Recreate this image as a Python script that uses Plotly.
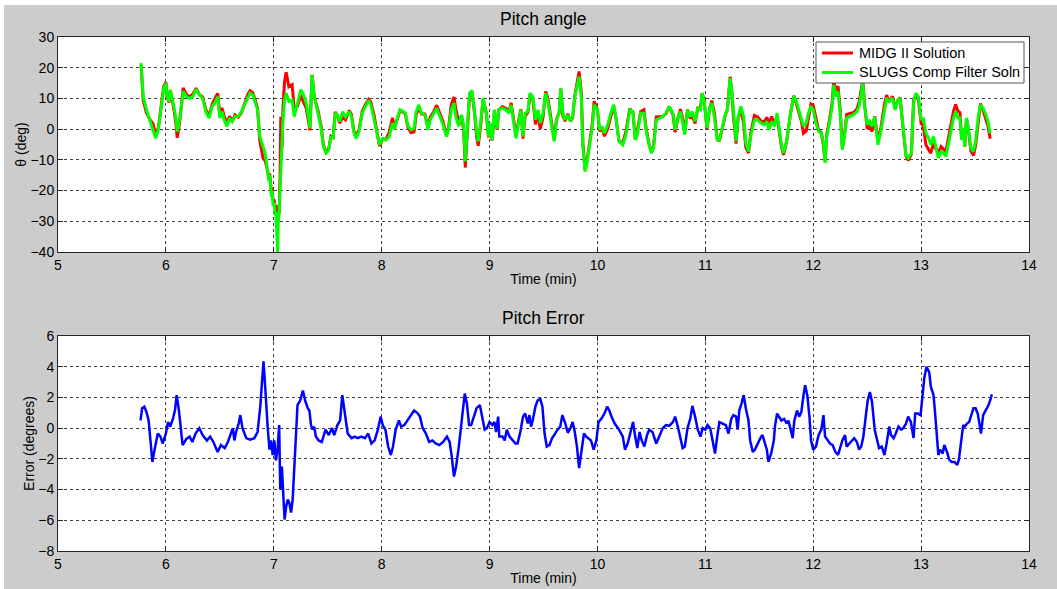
import plotly.graph_objects as go

# ---------------- data ----------------
# Pitch angle (deg): time (min), SLUGS complementary filter and MIDG II solution
t_pitch = [
    5.77, 5.79, 5.82, 5.85, 5.88, 5.905, 5.93, 5.96, 5.98, 6.00,
    6.01, 6.03, 6.04, 6.065, 6.09, 6.105, 6.13, 6.16, 6.19, 6.22,
    6.25, 6.28, 6.31, 6.34, 6.37, 6.40, 6.43, 6.46, 6.48, 6.50,
    6.52, 6.54, 6.565, 6.59, 6.615, 6.64, 6.67, 6.70, 6.73, 6.76,
    6.78, 6.805, 6.83, 6.85, 6.87, 6.90, 6.92, 6.945, 6.955, 6.962,
    6.97, 6.978, 6.985, 6.993, 7.005, 7.012, 7.02, 7.028, 7.035, 7.042,
    7.05, 7.058, 7.065, 7.07, 7.078, 7.085, 7.10, 7.115, 7.14, 7.17,
    7.19, 7.22, 7.25, 7.275, 7.30, 7.32, 7.335, 7.355, 7.375, 7.41,
    7.44, 7.46, 7.485, 7.51, 7.53, 7.55, 7.57, 7.59, 7.61, 7.64,
    7.665, 7.70, 7.72, 7.74, 7.76, 7.79, 7.82, 7.85, 7.88, 7.90,
    7.93, 7.95, 7.98, 8.01, 8.04, 8.07, 8.10, 8.12, 8.145, 8.17,
    8.20, 8.22, 8.24, 8.27, 8.30, 8.32, 8.345, 8.37, 8.40, 8.43,
    8.45, 8.48, 8.51, 8.54, 8.57, 8.60, 8.62, 8.645, 8.67, 8.69,
    8.715, 8.74, 8.76, 8.775, 8.79, 8.815, 8.835, 8.86, 8.88, 8.895,
    8.92, 8.94, 8.97, 8.99, 9.005, 9.025, 9.045, 9.07, 9.085, 9.12,
    9.15, 9.18, 9.20, 9.22, 9.245, 9.27, 9.29, 9.31, 9.33, 9.355,
    9.375, 9.40, 9.425, 9.45, 9.47, 9.495, 9.52, 9.54, 9.56, 9.58,
    9.60, 9.62, 9.645, 9.66, 9.68, 9.70, 9.725, 9.75, 9.77, 9.79,
    9.81, 9.83, 9.85, 9.865, 9.885, 9.905, 9.925, 9.95, 9.97, 10.00,
    10.02, 10.04, 10.065, 10.095, 10.12, 10.15, 10.17, 10.20, 10.235, 10.265,
    10.30, 10.33, 10.35, 10.37, 10.40, 10.43, 10.45, 10.475, 10.50, 10.52,
    10.545, 10.575, 10.605, 10.635, 10.665, 10.70, 10.72, 10.745, 10.77, 10.79,
    10.81, 10.835, 10.86, 10.88, 10.905, 10.93, 10.955, 10.97, 10.99, 11.015,
    11.04, 11.06, 11.085, 11.11, 11.13, 11.16, 11.18, 11.205, 11.23, 11.245,
    11.26, 11.285, 11.305, 11.33, 11.355, 11.375, 11.40, 11.42, 11.455, 11.485,
    11.515, 11.545, 11.57, 11.59, 11.615, 11.64, 11.665, 11.685, 11.705, 11.725,
    11.755, 11.79, 11.82, 11.84, 11.865, 11.89, 11.91, 11.935, 11.955, 11.98,
    12.00, 12.025, 12.05, 12.075, 12.095, 12.11, 12.125, 12.15, 12.175, 12.19,
    12.21, 12.23, 12.25, 12.27, 12.29, 12.31, 12.34, 12.375, 12.405, 12.425,
    12.445, 12.46, 12.475, 12.50, 12.52, 12.545, 12.57, 12.60, 12.63, 12.66,
    12.68, 12.705, 12.735, 12.76, 12.785, 12.805, 12.82, 12.84, 12.86, 12.88,
    12.91, 12.93, 12.95, 12.975, 13.00, 13.02, 13.045, 13.07, 13.09, 13.115,
    13.135, 13.16, 13.185, 13.21, 13.23, 13.255, 13.28, 13.30, 13.32, 13.34,
    13.36, 13.375, 13.39, 13.405, 13.42, 13.44, 13.46, 13.485, 13.505, 13.53,
    13.55, 13.575, 13.60, 13.62, 13.64,
]

slugs_pitch = [
    21.5, 10.6, 6.3, 3.0, -0.2, -3.0, 0.0, 7.4, 13.3, 15.0,
    10.6, 9.0, 12.8, 9.0, 4.1, -0.8, 3.6, 12.3, 10.6, 10.0,
    10.6, 13.0, 11.2, 10.0, 5.7, 3.6, 7.4, 9.0, 10.6, 3.6,
    5.7, 3.0, 0.9, 3.6, 2.5, 4.1, 4.1, 5.7, 7.9, 10.6,
    11.7, 11.2, 8.5, 6.3, -2.4, -5.6, -7.8, -14.3, -17.0, -15.0,
    -18.7, -22.0, -20.0, -25.0, -24.0, -28.0, -26.8, -33.0, -40.0, -30.0,
    -27.0, -20.0, -14.0, -11.0, -2.0, 3.0, 9.5, 11.7, 9.0, 9.5,
    4.1, 9.0, 12.8, 11.2, 8.5, 4.1, 0.3, 17.7, 10.6, 5.2,
    -0.2, -5.6, -7.8, -6.7, -2.4, -3.0, 5.2, 4.7, 2.5, 5.7,
    4.0, 5.7, 4.1, -0.8, -3.0, -0.8, 5.2, 7.4, 9.3, 7.9,
    3.6, -0.2, -5.1, -3.0, -3.5, -2.4, 2.0, 0.0, 3.6, 6.3,
    5.7, 5.2, 1.4, -0.2, 0.3, 5.7, 7.9, 5.2, 4.7, -0.2,
    3.0, 4.7, 6.8, 4.1, 1.4, -2.4, -0.2, 6.3, 8.5, 3.6,
    0.9, 4.7, 1.4, -10.5, -2.4, 11.7, 12.6, 6.3, -1.3, -4.0,
    3.0, 10.1, 5.2, -2.4, 2.0, -3.5, 6.3, 0.0, 6.3, 6.8,
    6.3, 5.2, 7.9, 3.6, -3.0, 2.0, 6.3, -2.4, 5.2, 5.7,
    11.7, 10.6, 3.0, 6.3, 2.0, 5.0, 11.7, 9.0, 4.1, 0.0,
    -4.0, 3.0, 5.2, 13.3, 5.2, 3.0, 4.7, 2.5, 4.1, 10.6,
    13.9, 17.1, 10.6, -5.6, -13.8, -10.5, -5.6, 0.0, 7.9, 6.3,
    -0.2, 0.9, -1.3, 1.4, 4.7, 7.9, 4.1, -4.0, -5.1, -1.8,
    6.3, 5.7, -3.5, -1.8, 5.2, 5.2, 0.0, -4.6, -7.8, -6.2,
    3.0, 3.6, 4.1, 5.2, 7.4, 5.2, -0.2, 3.6, 5.7, 2.0,
    -1.8, 6.3, 4.1, 5.7, 2.5, 6.8, 6.3, 11.7, 9.0, 0.3,
    6.8, 8.5, 3.6, -3.5, -3.5, 0.9, 4.1, 6.3, 16.6, 12.8,
    5.2, -4.0, 4.1, 7.4, 4.1, -4.6, -7.3, -2.4, 3.0, 3.0,
    2.0, 1.4, 2.5, -0.2, 2.5, 0.9, 5.2, 0.0, -5.1, -7.8,
    -3.5, 5.2, 10.6, 9.5, 6.3, 3.6, 0.9, 2.0, 5.2, 7.4,
    6.3, 2.0, -0.8, -1.3, -4.6, -11.0, -2.4, 2.0, 7.4, 14.4,
    10.6, 12.3, 5.2, -6.7, -2.4, 3.6, 4.1, 4.7, 5.7, 7.4,
    11.7, 15.0, 7.9, 1.4, 3.0, 0.9, 4.1, -5.1, -0.2, 6.3,
    10.1, 9.0, 10.1, 6.3, 9.5, 10.1, 4.7, -2.4, -8.4, -9.4,
    -7.8, 8.5, 11.7, 10.6, 3.0, 3.6, -1.3, -3.0, -5.1, -2.4,
    -5.1, -9.4, -7.3, -7.8, -8.9, -4.6, 0.0, 3.6, 5.7, 3.6,
    3.6, -3.5, 0.3, -5.6, 3.6, 0.0, -6.2, -7.3, -4.0, 4.1,
    7.9, 6.8, 4.7, 2.5, -1.3,
]

midg_pitch = [
    21.0, 9.3, 5.3, 3.2, 1.8, -1.7, 0.4, 8.2, 14.0, 15.3,
    10.6, 8.7, 12.7, 8.4, 2.7, -2.8, 2.9, 13.4, 11.3, 10.5,
    11.4, 13.3, 11.2, 10.5, 6.4, 4.2, 8.2, 10.3, 11.6, 4.8,
    6.9, 4.3, 1.9, 4.2, 2.6, 4.6, 3.9, 5.3, 8.3, 11.3,
    12.5, 11.9, 9.2, 6.6, -3.6, -9.4, -10.3, -14.2, -15.5, -14.5,
    -17.7, -20.5, -19.0, -23.0, -23.2, -26.0, -24.7, -27.0, -30.0, -28.0,
    -27.2, -16.0, 4.0, -8.0, -5.0, 7.0, 15.5, 18.5, 13.8, 14.5,
    6.6, 7.5, 10.9, 8.9, 6.9, 2.8, -0.4, 17.7, 10.6, 6.0,
    0.7, -5.1, -7.7, -6.2, -2.3, -2.7, 5.6, 4.5, 2.0, 3.8,
    3.0, 6.1, 4.8, -0.2, -2.4, -0.2, 5.8, 8.0, 9.7, 8.8,
    4.5, 0.3, -5.5, -3.2, -3.4, -1.0, 3.7, 0.6, 3.4, 6.0,
    5.5, 4.9, 0.9, -1.1, -0.9, 4.6, 7.0, 4.9, 4.9, 0.6,
    3.9, 5.5, 7.8, 5.2, 2.3, -1.8, 0.5, 7.9, 10.5, 6.1,
    2.1, 4.4, -0.4, -12.5, -4.0, 11.5, 12.4, 5.5, -2.6, -5.4,
    1.8, 9.6, 5.3, -2.7, 1.6, -3.7, 5.9, -0.2, 6.3, 7.3,
    6.8, 5.7, 8.6, 4.4, -2.0, 2.9, 6.5, -3.1, 4.3, 5.4,
    11.1, 10.1, 1.6, 4.5, 0.1, 3.7, 12.3, 10.2, 5.2, 0.6,
    -3.5, 3.2, 5.3, 13.2, 4.3, 2.6, 5.0, 2.5, 3.7, 10.9,
    15.1, 18.8, 12.1, -4.4, -13.4, -9.9, -4.9, 1.0, 9.1, 6.3,
    -0.7, 0.4, -2.3, 0.1, 3.6, 7.4, 3.9, -3.9, -4.5, -0.6,
    6.7, 5.3, -3.0, -0.5, 5.7, 6.3, 0.6, -4.4, -7.5, -5.6,
    4.0, 4.1, 4.1, 5.0, 7.3, 4.8, -1.0, 3.5, 6.5, 3.3,
    -0.6, 6.3, 3.5, 4.3, 1.8, 6.9, 6.9, 11.7, 9.1, 0.1,
    6.8, 9.3, 5.1, -3.0, -3.9, 0.6, 3.9, 6.6, 17.0, 12.1,
    4.4, -4.7, 4.1, 5.9, 2.0, -5.9, -7.8, -1.5, 4.5, 4.0,
    2.7, 2.2, 3.9, 1.9, 4.1, 1.4, 4.3, -0.8, -5.6, -8.4,
    -3.8, 5.2, 10.9, 8.7, 5.5, 2.6, -1.3, -0.6, 3.4, 8.2,
    7.7, 3.2, -0.4, -1.2, -5.5, -10.5, -1.7, 3.0, 8.5, 15.7,
    12.1, 14.0, 6.4, -5.9, -1.9, 4.8, 5.1, 5.4, 6.6, 8.8,
    12.9, 15.8, 8.5, 0.2, 0.8, -0.8, 4.2, -4.2, 1.0, 8.1,
    11.1, 8.9, 10.7, 6.7, 9.5, 10.3, 4.8, -2.4, -8.7, -10.2,
    -8.1, 9.2, 10.8, 9.7, 1.9, 1.1, -5.2, -6.7, -7.8, -4.6,
    -6.3, -7.7, -5.7, -6.6, -7.3, -2.6, 2.2, 5.8, 8.0, 5.9,
    5.4, -2.7, 0.1, -5.7, 3.4, -0.4, -7.0, -8.6, -5.3, 3.5,
    8.3, 6.0, 3.6, 1.0, -3.1,
]

# Pitch error (degrees)
t_err = [
    5.765, 5.78, 5.80, 5.82, 5.84, 5.86, 5.875, 5.895, 5.925, 5.95,
    5.97, 6.00, 6.02, 6.04, 6.065, 6.085, 6.10, 6.12, 6.14, 6.155,
    6.19, 6.22, 6.245, 6.275, 6.31, 6.34, 6.38, 6.41, 6.44, 6.48,
    6.51, 6.545, 6.575, 6.595, 6.62, 6.635, 6.65, 6.675, 6.69, 6.71,
    6.745, 6.78, 6.82, 6.85, 6.875, 6.89, 6.905, 6.915, 6.93, 6.945,
    6.96, 6.975, 6.99, 7.005, 7.02, 7.035, 7.05, 7.06, 7.075, 7.09,
    7.10, 7.115, 7.13, 7.145, 7.16, 7.175, 7.19, 7.205, 7.22, 7.245,
    7.27, 7.29, 7.315, 7.33, 7.345, 7.36, 7.375, 7.39, 7.415, 7.445,
    7.48, 7.51, 7.54, 7.56, 7.59, 7.615, 7.635, 7.655, 7.685, 7.72,
    7.75, 7.78, 7.81, 7.845, 7.875, 7.905, 7.935, 7.965, 7.99, 8.01,
    8.035, 8.06, 8.085, 8.105, 8.13, 8.16, 8.18, 8.21, 8.245, 8.275,
    8.30, 8.33, 8.355, 8.38, 8.41, 8.44, 8.47, 8.50, 8.535, 8.57,
    8.605, 8.63, 8.65, 8.67, 8.69, 8.715, 8.74, 8.755, 8.77, 8.79,
    8.81, 8.83, 8.86, 8.88, 8.91, 8.93, 8.955, 8.975, 9.00, 9.025,
    9.045, 9.06, 9.08, 9.09, 9.12, 9.14, 9.16, 9.185, 9.215, 9.24,
    9.26, 9.285, 9.31, 9.33, 9.355, 9.37, 9.385, 9.40, 9.425, 9.445,
    9.47, 9.49, 9.51, 9.53, 9.555, 9.58, 9.60, 9.625, 9.655, 9.675,
    9.70, 9.725, 9.75, 9.77, 9.79, 9.81, 9.83, 9.855, 9.875, 9.895,
    9.915, 9.94, 9.965, 9.99, 10.01, 10.035, 10.065, 10.09, 10.11, 10.13,
    10.16, 10.18, 10.20, 10.235, 10.255, 10.28, 10.305, 10.33, 10.35, 10.37,
    10.39, 10.41, 10.435, 10.46, 10.48, 10.51, 10.545, 10.575, 10.605, 10.635,
    10.665, 10.70, 10.72, 10.745, 10.77, 10.79, 10.81, 10.835, 10.86, 10.88,
    10.905, 10.93, 10.955, 10.975, 11.00, 11.02, 11.045, 11.07, 11.09, 11.11,
    11.13, 11.16, 11.19, 11.215, 11.24, 11.26, 11.285, 11.30, 11.315, 11.335,
    11.355, 11.375, 11.40, 11.415, 11.44, 11.46, 11.485, 11.51, 11.53, 11.55,
    11.57, 11.585, 11.61, 11.635, 11.645, 11.665, 11.685, 11.705, 11.73, 11.755,
    11.77, 11.79, 11.81, 11.825, 11.85, 11.87, 11.89, 11.91, 11.925, 11.945,
    11.965, 11.98, 12.00, 12.025, 12.05, 12.075, 12.095, 12.11, 12.135, 12.155,
    12.18, 12.205, 12.23, 12.25, 12.27, 12.295, 12.31, 12.335, 12.36, 12.38,
    12.405, 12.425, 12.445, 12.465, 12.49, 12.505, 12.525, 12.545, 12.57, 12.59,
    12.61, 12.635, 12.66, 12.68, 12.705, 12.72, 12.745, 12.765, 12.79, 12.815,
    12.835, 12.86, 12.88, 12.905, 12.93, 12.945, 12.97, 12.995, 13.01, 13.03,
    13.05, 13.075, 13.09, 13.115, 13.13, 13.145, 13.16, 13.175, 13.20, 13.215,
    13.24, 13.26, 13.285, 13.31, 13.335, 13.35, 13.37, 13.39, 13.405, 13.425,
    13.445, 13.46, 13.485, 13.505, 13.525, 13.545, 13.555, 13.575, 13.60, 13.625,
    13.64, 13.655,
]

pitch_error = [
    0.5, 1.3, 1.4, 1.05, 0.5, -0.8, -2.2, -1.4, -0.35, -0.55,
    -1.0, -0.35, 0.4, 0.1, 0.6, 1.2, 2.15, 1.2, 0.1, -1.1,
    -0.7, -0.55, -0.9, -0.35, 0.0, -0.45, -0.8, -0.55, -0.9, -1.55,
    -1.1, -1.3, -0.9, -0.55, 0.0, -0.8, -0.25, 0.3, 0.85, 0.0,
    -0.65, -0.75, -0.65, -0.25, 1.4, 2.9, 4.35, 3.3, 1.4, -0.1,
    -1.4, -0.8, -1.75, -0.8, -2.1, -1.4, 0.2, -4.0, -2.5, -4.65,
    -5.95, -5.1, -4.65, -4.9, -5.5, -4.65, -2.5, 0.3, 1.5, 1.8,
    2.45, 1.8, 1.3, 1.15, 0.2, -0.1, 0.1, -0.55, -0.8, -0.9,
    -0.1, -0.45, 0.0, -0.45, 0.2, 0.5, 2.15, 1.15, -0.35, -0.65,
    -0.55, -0.65, -0.55, -0.65, -0.35, -1.0, -0.8, -0.1, 0.75, 0.2,
    -0.1, -1.2, -1.75, -1.2, -0.1, 0.5, 0.1, 0.2, 0.6, 0.95,
    1.15, 1.0, 0.75, 0.0, -0.35, -0.9, -0.8, -1.0, -1.1, -0.9,
    -0.55, -0.9, -1.85, -3.15, -2.5, -1.2, 0.3, 1.4, 2.25, 1.6,
    0.2, 0.2, 0.85, 1.3, 1.5, 0.85, -0.1, 0.0, 0.4, 0.2,
    0.4, -0.25, 0.75, -0.55, -0.55, -0.8, -0.1, -0.55, -0.8, -1.0,
    -1.0, -0.25, 0.75, 0.95, 0.3, 0.85, 0.1, 0.5, 1.4, 1.8,
    1.9, 1.4, -0.35, -1.2, -1.1, -0.65, -0.45, -0.15, 0.1, 0.85,
    0.35, -0.3, 0.0, 0.4, -0.25, -1.2, -2.6, -1.2, -0.35, -0.55,
    -0.65, -0.8, -1.4, -0.8, 0.4, 0.6, 0.95, 1.4, 1.15, 0.75,
    0.3, 0.1, -0.1, -0.55, -1.4, -1.0, -0.35, 0.4, -0.55, -1.3,
    -0.25, -0.8, -1.2, -0.45, -0.1, -0.25, -1.0, -0.45, 0.0, 0.2,
    0.15, 0.4, 0.75, 0.1, -0.8, -1.3, -1.2, 0.0, 0.6, 1.45,
    0.75, -0.1, -0.55, 0.0, -0.1, 0.2, 0.0, -1.0, -1.65, -0.55,
    0.4, 0.3, 0.2, -0.35, 0.6, 0.85, 0.75, -0.1, 1.15, 1.6,
    2.15, 1.3, 0.5, -0.8, -1.55, -1.4, -1.0, -0.65, -0.45, -0.9,
    -1.4, -2.2, -1.65, -0.8, 0.1, 0.95, 0.75, 0.5, 0.6, 0.3,
    0.5, 0.0, -0.65, 0.5, 1.15, 0.75, 1.05, 2.15, 2.8, 2.15,
    0.75, -0.8, -1.4, -1.2, -0.45, -0.1, 0.85, -0.55, -0.8, -1.0,
    -1.1, -1.55, -1.75, -1.2, -0.8, -0.45, -1.2, -1.0, -0.8, -0.65,
    -0.9, -1.4, -1.2, -0.55, 0.95, 1.8, 2.35, 1.7, -0.1, -0.8,
    -1.3, -1.2, -1.75, -1.0, 0.1, -0.45, -0.65, -0.35, 0.1, -0.1,
    0.0, 0.3, 0.75, 0.4, -0.65, 0.95, 0.95, 0.85, 1.8, 3.3,
    4.0, 3.65, 2.7, 2.15, 0.95, -0.55, -1.75, -1.4, -1.65, -1.1,
    -1.55, -2.05, -2.2, -2.2, -2.4, -2.05, -0.8, 0.2, 0.1, 0.3,
    0.4, 0.75, 1.3, 1.3, 0.95, 0.1, -0.35, 0.85, 1.15, 1.5,
    1.8, 2.2,
]

pitch_ticks = [-40, -30, -20, -10, 0, 10, 20, 30]
error_ticks = [-8, -6, -4, -2, 0, 2, 4, 6]
time_ticks = [5, 6, 7, 8, 9, 10, 11, 12, 13, 14]
legend_names = ["MIDG II Solution", "SLUGS Comp Filter Soln"]
legend_colors = ["#FF0000", "#00FF00"]

# ---------------- figure ----------------
W, H = 1057, 589
ML, MR, MT, MB = 58, 28, 37, 38
plot_w = W - ML - MR
plot_h = H - MT - MB
top_dom = [(H - MB - 252) / plot_h, 1.0]
bot_dom = [0.0, (H - MB - 336) / plot_h]


def px_x(px):
    return (px - ML) / plot_w


def px_y(py):
    return (H - MB - py) / plot_h


FONT = "Arial, Liberation Sans, sans-serif"
AXC = "#262626"
GRIDC = "#404040"

fig = go.Figure()
fig.add_trace(go.Scatter(x=t_pitch, y=midg_pitch, mode="lines", name=legend_names[0],
                         line=dict(color=legend_colors[0], width=3), xaxis="x", yaxis="y"))
fig.add_trace(go.Scatter(x=t_pitch, y=slugs_pitch, mode="lines", name=legend_names[1],
                         line=dict(color=legend_colors[1], width=3), xaxis="x", yaxis="y"))
fig.add_trace(go.Scatter(x=t_err, y=pitch_error, mode="lines", name="Pitch error",
                         line=dict(color="#0000FF", width=2.5), xaxis="x2", yaxis="y2"))


def axis_common():
    return dict(showline=True, linecolor=AXC, linewidth=1, mirror="ticks",
                ticks="inside", ticklen=5, tickcolor=AXC, tickwidth=1,
                showgrid=True, gridcolor=GRIDC, gridwidth=1, griddash="dot",
                zeroline=False, tickfont=dict(family=FONT, size=14, color="#000"),
                title_font=dict(family=FONT, size=14, color="#000"))


xa = axis_common()
xa.update(range=[5, 14], tickvals=time_ticks, domain=[0, 1], anchor="y",
          title=dict(text="Time (min)", standoff=2))
ya = axis_common()
ya.update(range=[-40, 30], tickvals=pitch_ticks, domain=top_dom, anchor="x",
          title=dict(text="θ (deg)", standoff=0))
xa2 = axis_common()
xa2.update(range=[5, 14], tickvals=time_ticks, domain=[0, 1], anchor="y2",
           title=dict(text="Time (min)", standoff=2))
ya2 = axis_common()
ya2.update(range=[-8, 6], tickvals=error_ticks, domain=bot_dom, anchor="x2",
           title=dict(text="Error (degrees)", standoff=0))

# legend box drawn like the MATLAB one
shapes = [
    dict(type="rect", xref="paper", yref="paper", layer="above",
         x0=px_x(0), x1=px_x(W), y0=px_y(5), y1=px_y(0) + 0.01,
         fillcolor="#FFFFFF", line=dict(width=0)),
    dict(type="rect", xref="paper", yref="paper", layer="above",
         x0=px_x(0) - 0.01, x1=px_x(4), y0=px_y(H), y1=px_y(0) + 0.01,
         fillcolor="#FFFFFF", line=dict(width=0)),
    dict(type="rect", xref="paper", yref="paper", layer="above",
         x0=px_x(816), x1=px_x(1024), y0=px_y(83), y1=px_y(42),
         fillcolor="#FFFFFF", line=dict(color="#555555", width=1)),
]
annotations = [
    dict(text="Pitch angle", xref="paper", yref="paper", x=0.5, y=px_y(19),
         xanchor="center", yanchor="middle", showarrow=False,
         font=dict(family=FONT, size=17.5, color="#000")),
    dict(text="Pitch Error", xref="paper", yref="paper", x=0.5, y=px_y(318),
         xanchor="center", yanchor="middle", showarrow=False,
         font=dict(family=FONT, size=17.5, color="#000")),
]
for i, (name, col) in enumerate(zip(legend_names, legend_colors)):
    yy = 53 + 19.5 * i
    shapes.append(dict(type="line", xref="paper", yref="paper", layer="above",
                       x0=px_x(822), x1=px_x(853), y0=px_y(yy), y1=px_y(yy),
                       line=dict(color=col, width=3)))
    annotations.append(dict(text=name, xref="paper", yref="paper", x=px_x(857), y=px_y(yy),
                            xanchor="left", yanchor="middle", showarrow=False,
                            font=dict(family=FONT, size=14.5, color="#000")))

fig.update_layout(
    width=W, height=H,
    margin=dict(l=ML, r=MR, t=MT, b=MB, autoexpand=False),
    paper_bgcolor="#CCCCCC", plot_bgcolor="#FFFFFF",
    font=dict(family=FONT, size=14, color="#000"),
    xaxis=xa, yaxis=ya, xaxis2=xa2, yaxis2=ya2,
    showlegend=False,
    annotations=annotations,
    shapes=shapes,
)

fig.write_html("out.html")
